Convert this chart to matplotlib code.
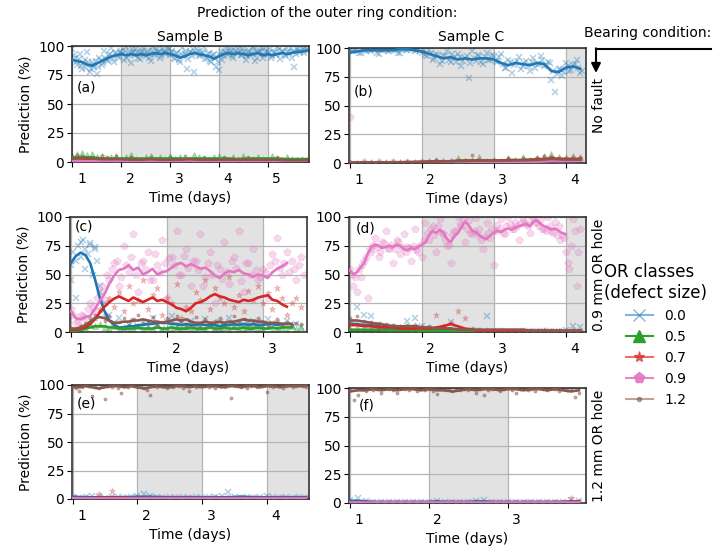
import numpy as np
import matplotlib
matplotlib.use("Agg")
import matplotlib.pyplot as plt
from matplotlib.lines import Line2D
from matplotlib.patches import FancyArrowPatch
from matplotlib.transforms import ScaledTranslation

plt.rcParams['font.family'] = ['DejaVu Sans']
plt.rcParams['font.size'] = 10

# ---------------- data ----------------
CLASSES = ["0.0", "0.5", "0.7", "0.9", "1.2"]
ROW_LABELS = ["No fault", "0.9 mm OR hole", "1.2 mm OR hole"]
COL_LABELS = ["Sample B", "Sample C"]
TITLE = "Prediction of the outer ring condition:"
Y_TICKS = [0, 25, 50, 75, 100]

X_TICKS_A = [1, 2, 3, 4, 5]
X_TICKS_B = [1, 2, 3, 4]
X_TICKS_C = [1, 2, 3]
X_TICKS_D = [1, 2, 3, 4]
X_TICKS_E = [1, 2, 3, 4]
X_TICKS_F = [1, 2, 3]

SPANS_A = [(2, 3), (4, 5)]
SPANS_B = [(2, 3), (4, 4.28)]
SPANS_C = [(2, 3)]
SPANS_D = [(2, 3), (4, 4.28)]
SPANS_E = [(2, 3), (4, 4.65)]
SPANS_F = [(2, 3)]

# ---- (a) Sample B, no fault ----
A_PTS_00 = [97, 90, 84, 93, 80, 88, 95, 78, 86, 82,
            76, 90, 84, 96, 88, 92, 98, 86, 94, 90,
            96, 88, 99, 92, 85, 95, 97, 90, 94, 98,
            91, 96, 87, 99, 93, 95, 90, 97, 94, 98,
            92, 96, 89, 94, 86, 98, 93, 80, 95, 91,
            78, 97, 92, 95, 99, 90, 94, 86, 93, 82,
            79, 95, 91, 98, 93, 96, 90, 99, 94, 92,
            97, 88, 95, 92, 99, 87, 94, 96, 90, 98,
            93, 97, 91, 95, 99, 89, 96, 92, 98, 94,
            90, 82, 97, 95, 99, 94, 98]
A_PTS_00_B = [92, 86, 89, 83, 85, 81, 86, 80, 84, 87,
              82, 88, 85, 90, 87, 93, 89, 94, 91, 95,
              93, 96, 90, 94, 97, 92, 95, 89, 96, 93,
              94, 90, 96, 92, 97, 95, 91, 96, 93, 97,
              95, 90, 94, 88, 93, 91, 96, 89, 95, 97,
              93, 96, 91, 94, 89, 93, 87, 92, 90, 86,
              92, 88, 95, 93, 97, 91, 96, 94, 98, 92,
              95, 91, 96, 93, 97, 90, 95, 98, 92, 96,
              94, 90, 95, 92, 97, 93, 96, 91, 95, 98,
              96, 93, 98, 95, 97, 99, 96]
A_PTS_05 = [5, 7, 8, 6, 7, 4, 5, 3, 4, 5, 3, 4, 6, 3, 2, 4, 5, 3, 4, 3,
            5, 3, 4, 2, 3, 6, 4, 3, 2, 4, 5, 3, 2, 4, 3, 5, 2, 3, 4, 3,
            2, 5, 3, 2, 4, 3, 2, 3, 2]
A_PTS_07 = [4, 3, 3, 5, 2, 2, 3, 1, 2, 2, 1, 2, 1, 2, 1, 1, 2, 1, 2, 1, 1, 2, 1, 1, 1]
A_PTS_09 = [1, 1, 0.5, 1, 0.5, 0.5, 1, 0.5, 0.5, 0.6, 0.5, 1, 0.5, 0.4, 0.5, 0.6,
            0.5, 0.4, 0.5, 0.5, 0.6, 0.5, 0.4, 0.5, 0.5]
A_PTS_12 = [4, 6, 5, 3, 4, 3, 2, 4, 3, 5, 2, 3, 4, 2, 3, 2, 4, 3, 2, 3,
            4, 2, 3, 5, 2, 3, 2, 4, 3, 2, 3, 4, 2, 3, 2, 3, 4, 2, 3, 2,
            3, 2, 4, 2, 3, 2, 3, 2, 2]
A_LINE_00 = [88, 87, 86, 84, 83, 85, 87, 89, 91, 92,
             93, 92, 93, 92, 93, 92, 93, 94, 93, 94,
             93, 92, 90, 91, 93, 94, 93, 92, 91, 89,
             91, 93, 94, 93, 94, 93, 92, 93, 94, 92,
             93, 92, 93, 94, 93, 94, 95, 95, 96]
A_LINE_05 = [4, 4, 4, 3, 3, 3, 3, 3, 3, 3, 3, 3, 3, 3, 3, 3, 3, 2.5, 3, 3, 3, 3, 2.5, 2.5, 2.5]
A_LINE_07 = [3, 3, 2.5, 2, 1.5, 1.5, 1.5, 1.2, 1.2, 1.2, 1, 1, 1, 1, 1, 1, 1, 1, 1, 1, 1, 1, 1, 1, 1]
A_LINE_09 = [0.8, 0.7, 0.6, 0.5, 0.5, 0.5, 0.5, 0.5, 0.5, 0.5, 0.5, 0.5, 0.5, 0.5, 0.5,
             0.5, 0.5, 0.5, 0.5, 0.5, 0.5, 0.5, 0.5, 0.5, 0.5]
A_LINE_12 = [3, 3.5, 3, 2.5, 2.5, 2.5, 2, 2, 2.5, 2, 2, 2, 2.5, 2, 2, 2, 2, 2, 2, 2, 2, 2, 1.5, 1.5, 1.5]

# ---- (b) Sample C, no fault ----
B_PTS_00 = [99, 97, 99, 96, 98, 100, 97, 99, 95, 98,
            99, 97, 100, 98, 96, 99, 98, 100, 97, 99,
            96, 94, 98, 90, 95, 86, 93, 97, 88, 92,
            95, 84, 91, 74, 97, 89, 93, 86, 96, 90,
            93, 88, 95, 83, 90, 78, 87, 92, 84, 89,
            80, 91, 86, 93, 84, 88, 72, 62, 82, 76,
            87, 80, 85, 90, 78]
B_PTS_00_B = [97, 98, 96, 99, 97, 98, 99, 96, 98, 99,
              97, 99, 98, 96, 99, 98, 100, 99, 98, 97,
              98, 93, 96, 91, 94, 89, 93, 90, 95, 88,
              92, 89, 93, 87, 91, 94, 88, 92, 90, 94,
              89, 92, 86, 83, 88, 85, 89, 82, 87, 84,
              88, 83, 86, 90, 85, 87, 80, 77, 82, 79,
              84, 81, 86, 83, 80]
B_PTS_05 = [0, 0, 0, 0.5, 0, 0.5, 0.5, 1, 1, 1, 1, 2, 3, 2, 1, 4, 2, 3, 5, 2,
            3, 2, 4, 3, 5, 3, 4, 6, 8, 5, 4, 6, 5]
B_PTS_07 = [0.5, 0.5, 0.5, 0.5, 1, 1, 2, 2, 2, 3, 2, 3, 2, 4, 5, 4, 4]
B_PTS_09 = [40, 0.5, 0.5, 0.5, 0.5, 0.5, 0.5, 1, 1, 1, 1, 1, 1, 1.5, 2, 2, 2]
B_PTS_12 = [0.5, 0.5, 0.5, 0.5, 0.5, 0.5, 1, 1, 1, 1, 1, 2, 3, 2, 1, 3, 2, 7, 3, 2,
            3, 2, 4, 3, 4, 3, 4, 6, 5, 4, 3, 5, 4]
B_LINE_00 = [96, 97, 98, 98, 98, 98, 98, 99, 99, 98,
             97, 95, 93, 91, 92, 90, 91, 90, 91, 91,
             90, 87, 85, 87, 86, 85, 87, 86, 80, 79,
             83, 84, 82]
B_LINE_05 = [0.3, 0.3, 0.3, 0.3, 0.5, 0.8, 1, 1.5, 2, 2, 2, 2.5, 2.5, 3, 3.5, 3, 3]
B_LINE_07 = [0.5, 0.5, 0.5, 0.6, 0.8, 1, 1.5, 1.5, 2, 2, 2, 2.5, 2.5, 3, 4, 3.5, 3.5]
B_LINE_09 = [0.3, 0.2, 0.2, 0.2, 0.2, 0.3, 0.4, 0.5, 0.6, 0.7, 0.8, 1, 1, 1.2, 1.8, 1.8, 2]
B_LINE_12 = [0.5, 0.5, 0.5, 0.5, 0.6, 0.8, 1.2, 1.5, 1.8, 2, 2, 2.2, 2.3, 2.6, 3.5, 3, 3]

# ---- (c) Sample B, 0.9 mm OR hole ----
C_PTS_00 = [45, 62, 78, 55, 76, 72, 40, 25, 15, 8, 12, 3, 6, 10, 4, 9, 5, 12, 7, 3,
            9, 14, 5, 8, 2, 10, 6, 4, 11, 7, 3, 9, 5, 12, 4, 8, 6, 10, 3, 9,
            5, 11, 4, 8, 6, 10, 5, 7, 4]
C_PTS_00_EARLY = [58, 70, 30, 75, 65, 80, 72, 68, 77, 50, 74, 62, 35]
C_PTS_05 = [1, 1, 2, 4, 6, 5, 7, 4, 3, 5, 2, 4, 1, 3, 5, 2, 4, 3, 6, 2,
            3, 1, 4, 2, 5, 3, 1, 4, 2, 6, 3, 2, 4, 1, 5, 3, 2, 4, 6, 3,
            2, 5, 1, 3, 4, 2, 5, 3, 4]
C_PTS_07 = [3, 2, 5, 4, 8, 12, 20, 15, 30, 22, 35, 18, 40, 25, 28, 45, 20, 32, 38, 15,
            30, 25, 42, 12, 22, 18, 35, 28, 45, 20, 38, 30, 25, 48, 22, 32, 18, 36, 28, 40,
            25, 34, 20, 38, 30, 15, 25, 30, 22]
C_PTS_09 = [20, 8, 15, 12, 25, 18, 35, 28, 45, 60, 40, 75, 52, 85, 35, 62, 70, 45, 58, 80,
            30, 65, 88, 50, 72, 40, 62, 85, 48, 70, 25, 55, 78, 42, 65, 88, 35, 60, 72, 45,
            55, 30, 68, 82, 50, 70, 62, 45, 65]
C_PTS_09_B = [15, 10, 14, 20, 22, 30, 40, 50, 55, 62, 48, 58, 65, 50, 60, 55, 45, 68, 52, 60,
              64, 58, 50, 66, 56, 62, 54, 40, 60, 50, 58, 46, 52, 62, 56, 44, 60, 50, 54, 48,
              52, 58, 62, 56, 60, 52, 55, 58, 50]
C_PTS_12 = [2, 3, 5, 8, 12, 15, 18, 10, 14, 7, 9, 12, 6, 11, 15, 8, 10, 13, 7, 9,
            12, 8, 14, 10, 6, 9, 13, 7, 11, 8, 10, 12, 6, 9, 14, 8, 11, 7, 10, 12,
            9, 6, 8, 11, 7, 9, 6, 8, 7]
C_LINE_00 = [60, 66, 69, 67, 60, 46, 30, 18, 10, 6, 4, 4, 5, 5, 6, 6, 7, 7, 8, 8,
             8, 7, 7, 6, 7, 6, 6, 7, 6, 6, 6, 5, 6, 6, 7, 6, 7, 6, 7, 6,
             6, 7, 7, 6, 7, 7, 7]
C_LINE_05 = [1, 1, 2, 3, 4, 5, 5, 5, 4, 4, 3, 3, 3, 3, 4, 3, 3, 3, 4, 3,
             3, 4, 3, 3, 3, 4, 3, 3, 3, 4, 3, 3, 4, 3, 3, 3, 4, 3, 3, 4,
             3, 3, 4, 3, 4, 4, 4]
C_LINE_07 = [2, 2, 3, 4, 7, 11, 17, 22, 26, 29, 31, 29, 27, 30, 28, 26, 28, 30, 27, 28,
             26, 24, 21, 20, 18, 21, 25, 26, 28, 31, 33, 31, 30, 28, 27, 26, 28, 27, 28, 30,
             31, 32, 28, 27, 24, 22]
C_LINE_09 = [18, 12, 11, 13, 14, 20, 27, 33, 42, 49, 54, 55, 58, 54, 56, 50, 52, 55, 50, 52,
             53, 56, 59, 60, 57, 59, 57, 55, 56, 53, 49, 47, 51, 53, 52, 54, 51, 50, 48, 50,
             49, 47, 52, 55, 57, 60]
C_LINE_12 = [3, 3, 4, 6, 9, 12, 13, 12, 10, 8, 8, 9, 9, 10, 10, 11, 10, 9, 9, 8,
             9, 10, 11, 10, 11, 9, 8, 8, 9, 8, 8, 9, 8, 9, 9, 10, 11, 10, 10, 9,
             9, 8, 8, 8, 7, 7, 7]

# ---- (d) Sample C, 0.9 mm OR hole ----
D_PTS_09 = [55, 40, 35, 48, 62, 30, 70, 82, 65, 78,
            88, 72, 60, 80, 68, 85, 74, 62, 90, 70,
            65, 95, 80, 92, 70, 98, 85, 75, 60, 88,
            100, 92, 78, 97, 85, 99, 90, 72, 95, 82,
            58, 93, 98, 85, 100, 90, 96, 80, 99, 94,
            86, 100, 95, 98, 90, 100, 88, 96, 92, 84,
            70, 55, 98, 40, 90]
D_PTS_09_B = [50, 48, 55, 58, 65, 72, 76, 74, 70, 77, 73, 76, 72, 78, 74, 70, 73, 75, 71, 76,
              80, 86, 90, 84, 92, 86, 80, 76, 84, 88, 94, 98, 90, 86, 88, 84, 80, 83, 86, 90,
              88, 90, 86, 92, 94, 90, 92, 95, 96, 92, 98, 96, 92, 90, 88, 92, 86, 84, 80, 82,
              60, 75, 88, 70]
D_PTS_00 = [8, 22, 15, 14, 6, 5, 4, 3, 10, 12, 5, 3, 2, 3, 9, 2, 1, 2, 1, 14,
            1, 1, 1, 1, 1, 1, 1, 1, 1, 1, 2, 5, 4]
D_PTS_05 = [3, 2, 3, 2, 2, 2, 1, 2, 1, 1, 1, 1, 1, 1, 1, 0.5, 0.5, 0.5, 0.5, 0.5,
            0.5, 0.5, 0.5, 0.5, 0.5, 0.5, 0.5, 0.5, 0.5, 0.5, 0.5, 0.5, 0.5]
D_PTS_07 = [8, 6, 7, 5, 4, 3, 5, 4, 3, 6, 4, 3, 15, 5, 8, 18, 12, 3, 2, 2,
            1, 2, 1, 1, 2, 1, 1, 2, 1, 1, 1, 2, 1]
D_PTS_12 = [12, 14, 10, 9, 8, 7, 6, 5, 6, 5, 4, 5, 3, 4, 3, 3, 2, 3, 2, 2,
            2, 2, 2, 1, 2, 1, 1, 1, 1, 1, 1, 1, 1]
D_LINE_09 = [54, 50, 52, 56, 60, 68, 74, 76, 75, 73, 74, 75, 74, 76, 75, 72, 71, 73, 72, 74,
             76, 78, 84, 88, 86, 89, 86, 81, 78, 83, 86, 91, 96, 93, 88, 87, 84, 82, 81, 84,
             86, 88, 87, 89, 90, 89, 91, 92, 93, 94, 92, 96, 97, 94, 92, 91, 89, 90, 88, 86,
             85]
D_LINE_00 = [7, 7, 6, 6, 5, 4, 4, 4, 5, 5, 4, 3, 3, 3, 3, 2, 2, 1, 1, 1,
             1, 1, 1, 1, 1, 1, 1, 1, 1, 1, 1, 1, 1]
D_LINE_05 = [2, 2, 2, 2, 2, 1.5, 1.5, 1.5, 1.5, 1.5, 1, 1, 1, 1, 1, 0.5, 0.5, 0.5, 0.5, 0.5,
             0.5, 0.5, 0.5, 0.5, 0.5, 0.5, 0.5, 0.5, 0.5, 0.5, 0.5, 0.5, 0.5]
D_LINE_07 = [6, 6, 5, 5, 4, 4, 4, 3, 3, 3, 3, 3, 4, 5, 7, 5, 3, 2, 1, 1,
             1, 1, 1, 1, 1, 1, 1, 1, 1, 1, 1, 1, 1]
D_LINE_12 = [10, 10, 9, 8, 7, 6, 5, 5, 5, 5, 4, 4, 3, 3, 3, 2, 2, 2, 2, 2,
             2, 2, 2, 2, 2, 1, 1, 1, 1, 1, 1, 1, 1]

# ---- (e) Sample B, 1.2 mm OR hole ----
E_PTS_12 = [99, 97, 95, 98, 100, 99, 90, 98, 97, 99,
            88, 99, 98, 100, 97, 93, 99, 98, 100, 99,
            98, 99, 97, 96, 91, 99, 98, 100, 99, 97,
            99, 98, 100, 99, 97, 99, 95, 100, 98, 99,
            100, 99, 98, 99, 97, 100, 99, 98, 99, 89,
            99, 100, 98, 99, 97, 99, 100, 98, 99, 100,
            94, 99, 98, 100, 99, 97, 99, 100, 98, 99,
            100, 99, 98]
E_PTS_00 = [2, 1, 2, 3, 2, 1, 2, 2, 1, 2, 3, 4, 3, 2, 1, 2, 1, 2, 1, 2,
            1, 2, 2, 3, 6, 2, 1, 2, 1, 2, 3, 2, 1, 2, 1, 2, 1]
E_PTS_07 = [1, 1, 4, 7, 2, 1, 1, 1, 1, 1, 1, 1, 1, 1, 1, 1, 1, 1, 1]
E_PTS_09 = [0.5, 0.5, 0.6, 0.5, 0.4, 0.5, 0.5, 0.6, 0.5, 0.5, 0.4, 0.5, 0.5, 0.5, 0.6, 0.5, 0.5, 0.4, 0.5]
E_LINE_12 = [98, 98, 99, 98, 97, 98, 99, 99, 98, 99, 98, 97, 98, 99, 98, 98, 99, 99, 98, 99,
             98, 99, 99, 98, 99, 99, 98, 99, 99, 98, 99, 99, 98, 99, 99, 99, 99]
E_LINE_00 = [2, 1.5, 1.5, 1.5, 1.5, 2, 2, 1.5, 1.5, 1.5, 1.5, 1.5, 1.5, 2, 1.5, 1.5, 1.5, 1.5, 1.5]
E_LINE_05 = [0.3, 0.3, 0.3, 0.3, 0.3, 0.3, 0.3, 0.3, 0.3, 0.3, 0.3, 0.3, 0.3, 0.3, 0.3, 0.3, 0.3, 0.3, 0.3]
E_LINE_07 = [0.8, 0.8, 1, 1.2, 1, 0.8, 0.8, 0.8, 0.8, 0.8, 0.8, 0.8, 0.8, 0.8, 0.8, 0.8, 0.8, 0.8, 0.8]
E_LINE_09 = [0.6, 0.5, 0.5, 0.5, 0.5, 0.5, 0.5, 0.5, 0.5, 0.5, 0.5, 0.5, 0.5, 0.5, 0.5, 0.5, 0.5, 0.5, 0.5]

# ---- (f) Sample C, 1.2 mm OR hole ----
F_PTS_12 = [98, 90, 94, 99, 97, 100, 98, 99, 96, 100,
            99, 98, 96, 100, 99, 98, 100, 97, 99, 98,
            99, 97, 95, 100, 98, 99, 97, 100, 98, 99,
            98, 100, 96, 99, 94, 98, 99, 100, 97, 99,
            100, 98, 96, 99, 100, 98, 99, 97, 100, 99,
            98, 100, 99, 97, 99, 98, 100, 92, 96]
F_PTS_00 = [3, 4, 2, 1, 1, 1, 1, 1, 1, 1, 1, 2, 1, 1, 1, 1, 2, 3, 1, 1,
            1, 1, 1, 1, 1, 1, 1, 1, 3, 2]
F_PTS_07 = [0.5, 0.5, 0.5, 0.5, 0.5, 0.5, 0.5, 0.5, 0.5, 0.5, 0.5, 0.5, 0.5, 0.5, 0.5,
            0.5, 0.5, 0.5, 0.5, 0.5, 0.5, 0.5, 0.5, 0.5, 0.5, 0.5, 0.5, 1, 4, 2]
F_LINE_12 = [97, 98, 98, 99, 98, 99, 98, 99, 99, 98, 99, 98, 98, 97, 98, 99, 98, 99, 99, 98,
             99, 99, 98, 99, 99, 98, 99, 98, 97, 98]
F_LINE_00 = [2, 2, 1.5, 1, 1, 1, 1, 1, 1, 1, 1, 1.5, 1, 1, 1, 1, 1.5, 1.5, 1, 1,
             1, 1, 1, 1, 1, 1, 1, 1, 1.5, 1.5]
F_LINE_05 = [0.3, 0.3, 0.3, 0.3, 0.3, 0.3, 0.3, 0.3, 0.3, 0.3, 0.3, 0.3, 0.3, 0.3, 0.3]
F_LINE_07 = [0.6, 0.5, 0.5, 0.5, 0.5, 0.5, 0.5, 0.5, 0.5, 0.5, 0.5, 0.5, 0.5, 0.8, 1]
F_LINE_09 = [0.5, 0.5, 0.5, 0.5, 0.5, 0.5, 0.5, 0.5, 0.5, 0.5, 0.5, 0.5, 0.5, 0.5, 0.5]

# ---------------- styles ----------------
COLORS = ['#1f77b4', '#2ca02c', '#d62728', '#e377c2', '#8c564b']
MARKERS = ['x', '^', '*', 'p', '.']
PT_MS = [4.5, 4, 5, 5.5, 4.5]
PT_ALPHA = [0.35, 0.4, 0.3, 0.28, 0.5]
LEG_ALPHA = [0.55, 1.0, 0.65, 0.9, 0.55]
LEG_MS = [8, 8, 8, 8, 6]

W, H = 726, 553
fig = plt.figure(figsize=(W / 100, H / 100), dpi=100)


def px_axes(l, t, r, b):
    return fig.add_axes([l / W, 1 - b / H, (r - l) / W, (b - t) / H])


panels = {
    'a': dict(box=(72, 46, 309, 162), xlim=(0.99, 5.85), ticks=X_TICKS_A, spans=SPANS_A,
              tag=(0.02, 0.64),
              pts=[(0, 1.0, 5.8, A_PTS_00), (0, 1.025, 5.825, A_PTS_00_B),
                   (1, 1.0, 5.8, A_PTS_05), (2, 1.0, 5.8, A_PTS_07),
                   (3, 1.0, 5.8, A_PTS_09), (4, 1.0, 5.8, A_PTS_12)],
              lines=[(0, 1.0, 5.8, A_LINE_00), (1, 1.0, 5.8, A_LINE_05), (2, 1.0, 5.8, A_LINE_07),
                     (3, 1.0, 5.8, A_LINE_09), (4, 1.0, 5.8, A_LINE_12)]),
    'b': dict(box=(349, 48, 586, 163), xlim=(0.99, 4.28), ticks=X_TICKS_B, spans=SPANS_B,
              tag=(0.022, 0.62),
              pts=[(0, 1.0, 4.2, B_PTS_00), (0, 1.025, 4.225, B_PTS_00_B),
                   (1, 1.0, 4.2, B_PTS_05), (2, 1.0, 4.2, B_PTS_07),
                   (3, 1.0, 4.2, B_PTS_09), (4, 1.0, 4.2, B_PTS_12)],
              lines=[(0, 1.0, 4.2, B_LINE_00), (1, 1.0, 4.2, B_LINE_05), (2, 1.0, 4.2, B_LINE_07),
                     (3, 1.0, 4.2, B_LINE_09), (4, 1.0, 4.2, B_LINE_12)]),
    'c': dict(box=(70, 217, 307, 332), xlim=(0.99, 3.46), ticks=X_TICKS_C, spans=SPANS_C,
              tag=(0.022, 0.92),
              pts=[(0, 1.0, 3.4, C_PTS_00), (0, 1.0, 1.3, C_PTS_00_EARLY), (1, 1.0, 3.4, C_PTS_05),
                   (2, 1.0, 3.4, C_PTS_07), (3, 1.0, 3.4, C_PTS_09), (3, 1.025, 3.425, C_PTS_09_B),
                   (4, 1.0, 3.4, C_PTS_12)],
              lines=[(0, 1.0, 3.3, C_LINE_00), (1, 1.0, 3.3, C_LINE_05), (2, 1.0, 3.25, C_LINE_07),
                     (3, 1.0, 3.25, C_LINE_09), (4, 1.0, 3.3, C_LINE_12)]),
    'd': dict(box=(349, 217, 586, 332), xlim=(0.99, 4.28), ticks=X_TICKS_D, spans=SPANS_D,
              tag=(0.03, 0.90),
              pts=[(0, 1.0, 4.2, D_PTS_00), (1, 1.0, 4.2, D_PTS_05), (2, 1.0, 4.2, D_PTS_07),
                   (3, 1.0, 4.2, D_PTS_09), (3, 1.025, 4.175, D_PTS_09_B), (4, 1.0, 4.2, D_PTS_12)],
              lines=[(0, 1.0, 4.2, D_LINE_00), (1, 1.0, 4.2, D_LINE_05), (2, 1.0, 4.2, D_LINE_07),
                     (3, 1.0, 4.0, D_LINE_09), (4, 1.0, 4.2, D_LINE_12)]),
    'e': dict(box=(72, 385, 309, 499), xlim=(0.99, 4.65), ticks=X_TICKS_E, spans=SPANS_E,
              tag=(0.022, 0.84),
              pts=[(0, 1.0, 4.6, E_PTS_00), (2, 1.0, 4.6, E_PTS_07), (3, 1.0, 4.6, E_PTS_09),
                   (4, 1.0, 4.6, E_PTS_12)],
              lines=[(0, 1.0, 4.6, E_LINE_00), (1, 1.0, 4.6, E_LINE_05), (2, 1.0, 4.6, E_LINE_07),
                     (3, 1.0, 4.6, E_LINE_09), (4, 1.0, 4.6, E_LINE_12)]),
    'f': dict(box=(349, 388, 586, 503), xlim=(0.99, 3.99), ticks=X_TICKS_F, spans=SPANS_F,
              tag=(0.04, 0.85),
              pts=[(0, 1.0, 3.9, F_PTS_00), (2, 1.0, 3.9, F_PTS_07), (4, 1.0, 3.9, F_PTS_12)],
              lines=[(0, 1.0, 3.9, F_LINE_00), (1, 1.0, 3.9, F_LINE_05), (2, 1.0, 3.9, F_LINE_07),
                     (3, 1.0, 3.9, F_LINE_09), (4, 1.0, 3.9, F_LINE_12)]),
}

offset = ScaledTranslation(9 / 100, 0, fig.dpi_scale_trans)

for i, key in enumerate('abcdef'):
    p = panels[key]
    ax = px_axes(*p['box'])
    for (s0, s1) in p['spans']:
        ax.axvspan(s0, s1, color='#e2e2e2', zorder=0, lw=0)
    ax.set_axisbelow(True)
    ax.grid(True, color='#b4b4b4', lw=0.9)
    for (ci, t0, t1, vals) in p['pts']:
        t = np.linspace(t0, t1, len(vals))
        ax.plot(t, vals, ls='none', marker=MARKERS[ci], ms=PT_MS[ci],
                mew=1.1 if MARKERS[ci] == 'x' else 0.5, color=COLORS[ci],
                alpha=PT_ALPHA[ci], zorder=2)
    for (ci, t0, t1, vals) in p['lines']:
        t = np.linspace(t0, t1, len(vals))
        ax.plot(t, vals, color=COLORS[ci], lw=1.9, zorder=3)
    ax.set_xlim(*p['xlim'])
    ax.set_ylim(0, 100)
    ax.set_yticks(Y_TICKS)
    ax.set_xticks(p['ticks'])
    ax.set_xticklabels([str(v) for v in p['ticks']])
    for lbl in ax.get_xticklabels():
        lbl.set_transform(lbl.get_transform() + offset)
    ax.tick_params(axis='y', pad=2)
    ax.set_xlabel('Time (days)')
    for sp in ax.spines.values():
        sp.set_color('0.2')
        sp.set_linewidth(1.2)
    ax.text(p['tag'][0], p['tag'][1], '(' + key + ')', transform=ax.transAxes,
            ha='left', va='center', fontsize=10)
    row, col = i // 2, i % 2
    if col == 0:
        ax.set_ylabel('Prediction (%)')
    else:
        ax.yaxis.set_label_position('right')
        ax.set_ylabel(ROW_LABELS[row], labelpad=4)

fig.text(327 / W, 1 - 13 / H, TITLE, ha='center', va='center', fontsize=10)
fig.text(190 / W, 1 - 37 / H, COL_LABELS[0], ha='center', va='center', fontsize=10)
fig.text(471 / W, 1 - 37 / H, COL_LABELS[1], ha='center', va='center', fontsize=10)
fig.text(648 / W, 1 - 33 / H, 'Bearing condition:', ha='center', va='center', fontsize=10)

fig.add_artist(Line2D([596 / W, 711 / W], [1 - 49 / H, 1 - 49 / H],
                      transform=fig.transFigure, color='k', lw=1.5))
fig.add_artist(FancyArrowPatch((596 / W, 1 - 48.3 / H), (596 / W, 1 - 73 / H),
                               transform=fig.transFigure, arrowstyle='-|>',
                               mutation_scale=14, color='k', lw=1.5,
                               shrinkA=0, shrinkB=0))

handles = [Line2D([0], [0], color=COLORS[k], marker=MARKERS[k], ms=LEG_MS[k],
                  alpha=LEG_ALPHA[k], lw=1.5) for k in range(len(CLASSES))]
fig.legend(handles, CLASSES, title='OR classes\n(defect size)', loc='upper center',
           bbox_to_anchor=(656 / W, 1 - 251 / H), frameon=False, fontsize=10,
           title_fontsize=12)

fig.savefig('out.png', dpi=100)
